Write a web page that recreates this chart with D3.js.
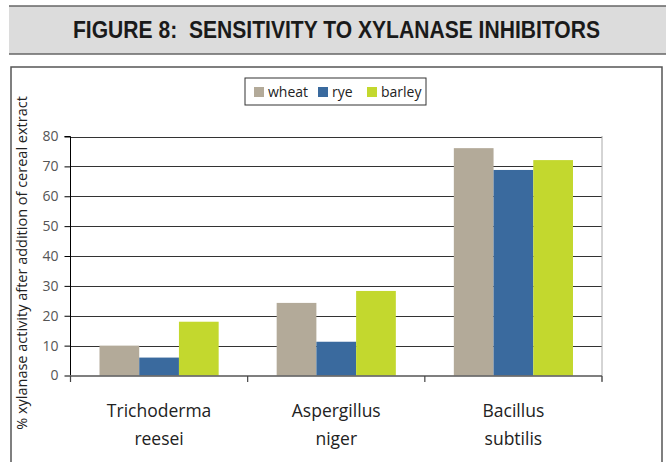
<!DOCTYPE html>
<html>
<head>
<meta charset="utf-8">
<script src="https://cdn.jsdelivr.net/npm/d3@7"></script>
<style>
  body { margin: 0; background: #fff; }
  text { font-family: "Open Sans", "DejaVu Sans", sans-serif; }
</style>
</head>
<body>
<script>
var categories = [["Trichoderma", "reesei"], ["Aspergillus", "niger"], ["Bacillus", "subtilis"]];
var seriesNames = ["wheat", "rye", "barley"];
var wheat = [10, 24.3, 76.1];
var rye = [6, 11.3, 68.8];
var barley = [18, 28.3, 72.1];
var yTicks = [0, 10, 20, 30, 40, 50, 60, 70, 80];
var colors = ["#b3aa99", "#3a6a9e", "#c3d82e"];

var series = [wheat, rye, barley];
var W = 666, H = 462;
var svg = d3.select("body").append("svg").attr("width", W).attr("height", H);

// title band
svg.append("rect").attr("x", 9).attr("y", 6).attr("width", W - 9).attr("height", 48)
    .attr("fill", "#dcdcdc");
svg.append("line").attr("x1", 9).attr("x2", W).attr("y1", 6).attr("y2", 6)
    .attr("stroke", "#666").attr("stroke-width", 1.5);
svg.append("line").attr("x1", 9).attr("x2", W).attr("y1", 54).attr("y2", 54)
    .attr("stroke", "#666").attr("stroke-width", 1.5);
svg.append("text").attr("x", 73).attr("y", 38)
    .attr("textLength", 527).attr("lengthAdjust", "spacingAndGlyphs")
    .style("white-space", "pre")
    .style("font-family", "'Liberation Sans Narrow', sans-serif")
    .style("font-weight", "bold").style("font-size", "23px").attr("fill", "#1a1a1a")
    .text("FIGURE 8:  SENSITIVITY TO XYLANASE INHIBITORS");

// chart box
svg.append("path").attr("d", "M11," + H + "V67H662V" + H)
    .attr("fill", "none").attr("stroke", "#555").attr("stroke-width", 1.5);

var x0 = d3.scaleBand().domain(d3.range(categories.length)).range([70.5, 602]).paddingInner(0).paddingOuter(0);
var x1 = d3.scaleBand().domain(d3.range(seriesNames.length)).range([29, x0.bandwidth() - 29]);
var y = d3.scaleLinear().domain([0, 80]).range([375.5, 136.5]);

// gridlines
svg.append("g").selectAll("line").data(yTicks.filter(function (d) { return d > 0; })).enter()
    .append("line")
    .attr("x1", 70.5).attr("x2", 602)
    .attr("y1", function (d) { return Math.round(y(d)) + 0.5; })
    .attr("y2", function (d) { return Math.round(y(d)) + 0.5; })
    .attr("stroke", "#333").attr("stroke-width", 1);
svg.append("line").attr("x1", 602).attr("x2", 602).attr("y1", 136).attr("y2", 381)
    .attr("stroke", "#aaa").attr("stroke-width", 1);

// bars
var groups = svg.append("g").selectAll("g").data(categories).enter().append("g")
    .attr("transform", function (d, i) { return "translate(" + x0(i) + ",0)"; });
groups.selectAll("rect").data(function (d, i) { return series.map(function (s) { return s[i]; }); })
    .enter().append("rect")
    .attr("x", function (d, j) { return x1(j); })
    .attr("width", x1.bandwidth())
    .attr("y", function (d) { return y(d); })
    .attr("height", function (d) { return y(0) - y(d); })
    .attr("fill", function (d, j) { return colors[j]; });

// y axis
var yAxis = svg.append("g").attr("transform", "translate(70.5,0)")
    .call(d3.axisLeft(y).tickValues(yTicks).tickSize(6).tickPadding(6));
yAxis.select(".domain").attr("stroke", "#000").attr("d", "M-6," + y(80) + "H0V" + y(0));
yAxis.selectAll(".tick line").attr("stroke", "#000");
yAxis.selectAll(".tick text").attr("fill", "#555").style("font-size", "14px")
    .style("font-family", "'Open Sans', sans-serif");

// x axis
var xAxisG = svg.append("g");
xAxisG.append("line").attr("x1", 70.5).attr("x2", 602).attr("y1", 376).attr("y2", 376)
    .attr("stroke", "#555").attr("stroke-width", 1.5);
xAxisG.selectAll("line.tk").data(d3.range(categories.length + 1)).enter().append("line")
    .attr("class", "tk")
    .attr("x1", function (i) { return i < categories.length ? x0(i) : x0.range()[1]; })
    .attr("x2", function (i) { return i < categories.length ? x0(i) : x0.range()[1]; })
    .attr("y1", 376).attr("y2", 382).attr("stroke", "#444").attr("stroke-width", 1.2);
var lbl = xAxisG.selectAll("text").data(categories).enter().append("text")
    .attr("x", function (d, i) { return x0(i) + x0.bandwidth() / 2; })
    .attr("y", 417).attr("text-anchor", "middle")
    .style("font-size", "17.5px").attr("fill", "#222");
lbl.append("tspan").text(function (d) { return d[0]; });
lbl.append("tspan").attr("x", function (d, i) { return x0(i) + x0.bandwidth() / 2; })
    .attr("dy", 28).text(function (d) { return d[1]; });

// y title
svg.append("text").attr("transform", "translate(27,263) rotate(-90)")
    .attr("text-anchor", "middle").style("font-size", "14.5px").attr("fill", "#222")
    .text("% xylanase activity after addition of cereal extract");

// legend
var lg = svg.append("g").attr("transform", "translate(245,78)");
lg.append("rect").attr("width", 181).attr("height", 27).attr("fill", "#fff")
    .attr("stroke", "#333").attr("stroke-width", 1);
var lx = [9, 73, 122];
var items = lg.selectAll("g").data(seriesNames).enter().append("g")
    .attr("transform", function (d, i) { return "translate(" + lx[i] + ",0)"; });
items.append("rect").attr("y", 9).attr("width", 10).attr("height", 10)
    .attr("fill", function (d, i) { return colors[i]; });
items.append("text").attr("x", 14).attr("y", 19).style("font-size", "14px").attr("fill", "#222")
    .text(function (d) { return d; });
</script>
</body>
</html>
